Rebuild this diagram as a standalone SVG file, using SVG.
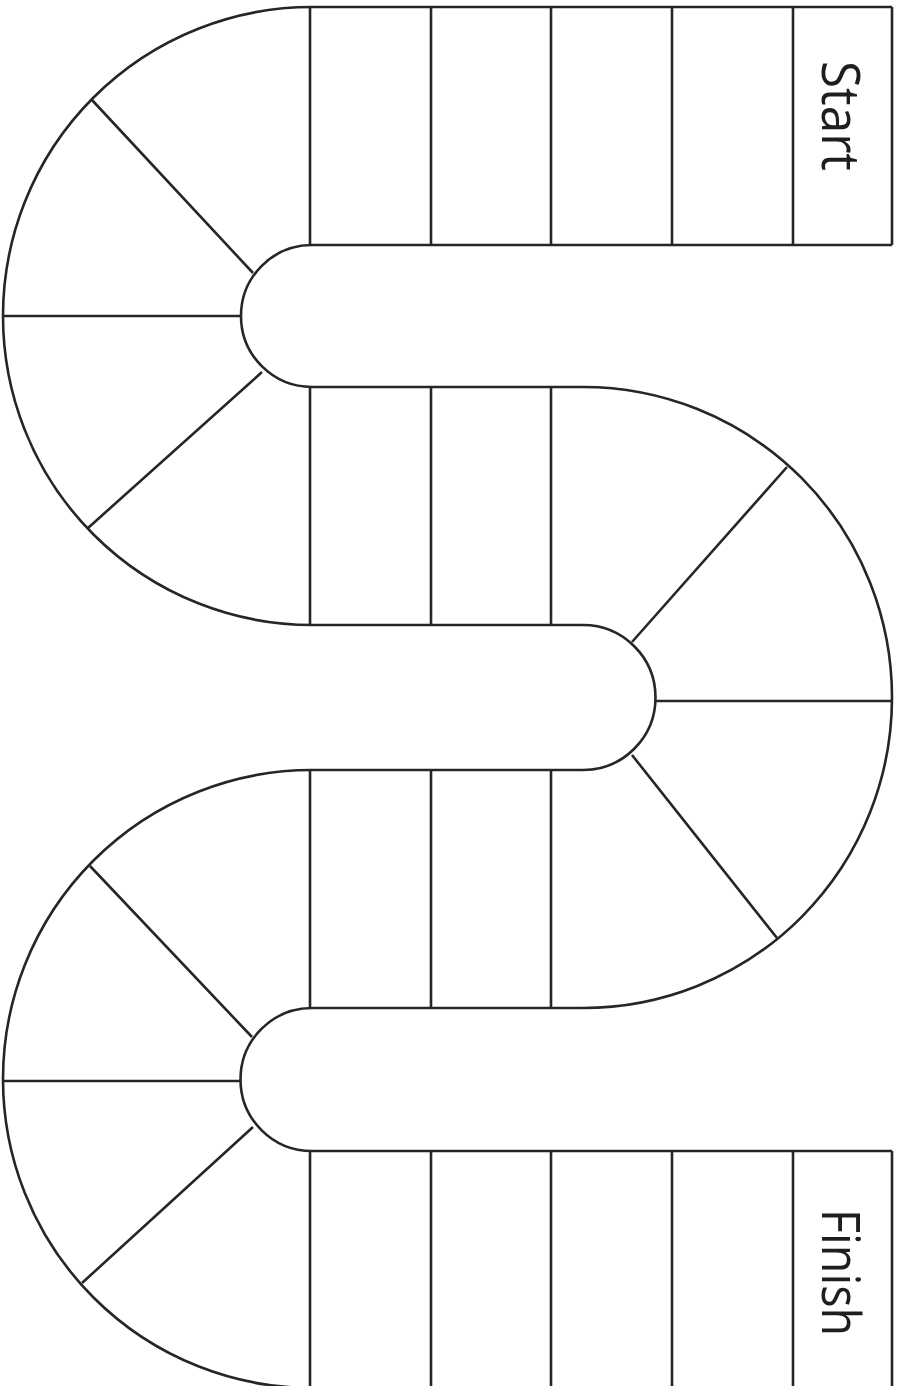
<svg xmlns="http://www.w3.org/2000/svg" width="897" height="1386" viewBox="0 0 897 1386">
<style>
  .ln{fill:none;stroke:#262626;stroke-width:2.6;stroke-linecap:butt;stroke-linejoin:round}
  .lbl{font-family:"Open Sans","Noto Sans","Liberation Sans",sans-serif;font-size:53px;fill:#1e1e1e}
</style>
<rect width="897" height="1386" fill="#ffffff"/>
<g id="outline">
  <path class="ln" d="M892,245 L312,245 A71,71 0 0 0 312,387 L583,387 A309,310.5 0 0 1 892,697.5 A309,310.5 0 0 1 583,1008 L312,1008 A71.5,71.5 0 0 0 312,1151 L892,1151"/>
  <path class="ln" d="M892,7 L312,7 A309,309 0 0 0 3,316 A309,309 0 0 0 312,625 L583,625 A72,72 0 0 1 583,770 L312,770 A309,309 0 0 0 3,1079 A309,309 0 0 0 312,1388 L892,1388"/>
  <path class="ln" d="M892,7 L892,245 M892,1151 L892,1388"/>
</g>
<g id="dividers">
  <path class="ln" d="M310,7 V245 M431,7 V245 M551,7 V245 M672,7 V245 M793,7 V245"/>
  <path class="ln" d="M310,387 V625 M431,387 V625 M551,387 V625"/>
  <path class="ln" d="M310,770 V1008 M431,770 V1008 M551,770 V1008"/>
  <path class="ln" d="M310,1151 V1386 M431,1151 V1386 M551,1151 V1386 M672,1151 V1386 M793,1151 V1386"/>
  <path class="ln" d="M92,100 L253,273 M3,316 H241 M88,528 L262,372"/>
  <path class="ln" d="M787,467 L632,642 M655,701 H892 M632,755 L777,938"/>
  <path class="ln" d="M90,866 L252,1037 M3,1081 H241 M82,1283 L253,1127"/>
</g>
<g id="start">
  <text class="lbl" transform="translate(822,61) rotate(90)" textLength="110" lengthAdjust="spacingAndGlyphs">Start</text>
</g>
<g id="finish">
  <text class="lbl" transform="translate(822,1209) rotate(90)" textLength="127" lengthAdjust="spacingAndGlyphs">Finish</text>
</g>
</svg>
